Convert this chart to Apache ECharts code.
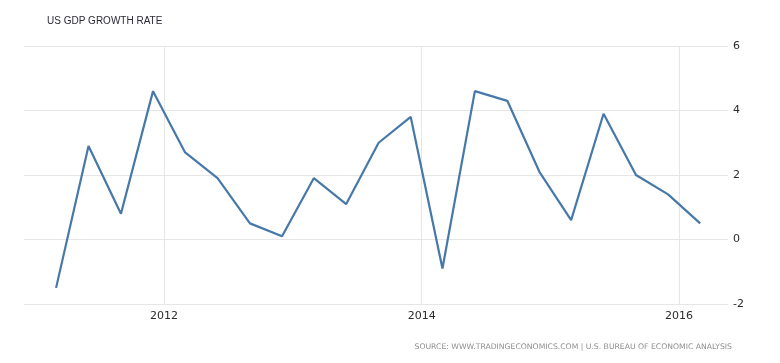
<!DOCTYPE html>
<html><head><meta charset="utf-8">
<script src="https://cdn.jsdelivr.net/npm/echarts@6/dist/echarts.min.js"></script>
<style>html,body{margin:0;padding:0;background:#fff}#c{width:780px;height:363px}</style>
</head><body><div id="c"></div>
<script>
const dates = ['2011-03-01','2011-06-01','2011-09-01','2011-12-01','2012-03-01','2012-06-01','2012-09-01','2012-12-01','2013-03-01','2013-06-01','2013-09-01','2013-12-01','2014-03-01','2014-06-01','2014-09-01','2014-12-01','2015-03-01','2015-06-01','2015-09-01','2015-12-01','2016-03-01'];
const gdpGrowth = [-1.5,2.9,0.8,4.6,2.7,1.9,0.5,0.1,1.9,1.1,3.0,3.8,-0.9,4.6,4.3,2.1,0.6,3.9,2.0,1.4,0.5];
const yearTicks = ['2012-01-01','2014-01-01','2016-01-01'];
const yTicks = [-2,0,2,4,6];

const ts = d => new Date(d + 'T00:00:00Z').getTime();
const chart = echarts.init(document.getElementById('c'), null, {renderer:'canvas'});
chart.setOption({
  animation:false,
  backgroundColor:'#fff',
  title:{text:'US GDP GROWTH RATE',left:42,top:11,textStyle:{fontFamily:'Liberation Sans',fontSize:10,fontWeight:'normal',color:'#2b2838'}},
  graphic:[{type:'text',right:48,top:343,style:{text:'SOURCE: WWW.TRADINGECONOMICS.COM | U.S. BUREAU OF ECONOMIC ANALYSIS',font:'7.7px "DejaVu Sans"',fill:'#8f8f8f'}}],
  grid:{left:24,right:52,top:46,bottom:59},
  xAxis:{type:'value',min:ts('2010-11-30'),max:ts('2016-05-19'),
    axisLine:{show:false},
    axisTick:{show:true,customValues:yearTicks.map(ts),length:5,lineStyle:{color:'#e3e3e3'}},
    splitLine:{show:true,lineStyle:{color:'#e6e6e6',width:1}},
    axisLabel:{customValues:yearTicks.map(ts),formatter:v=>String(new Date(v).getUTCFullYear()),fontFamily:'DejaVu Sans',fontSize:11,color:'#2b2b2b',margin:7}},
  yAxis:{type:'value',position:'right',min:-2,max:6,interval:2,
    axisLine:{show:false},axisTick:{show:false},
    splitLine:{lineStyle:{color:'#e6e6e6',width:1}},
    axisLabel:{customValues:yTicks,fontFamily:'DejaVu Sans',fontSize:11,color:'#2b2b2b',margin:5}},
  series:[{type:'line',data:dates.map((d,i)=>[ts(d),gdpGrowth[i]]),symbol:'none',lineStyle:{color:'#4678aa',width:2.2},itemStyle:{color:'#4678aa'}}]
});
</script></body></html>
